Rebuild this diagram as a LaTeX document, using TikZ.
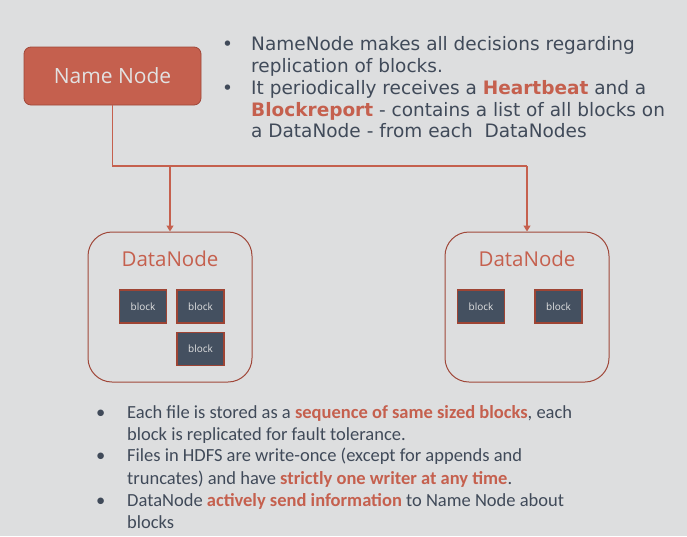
\documentclass[tikz,border=0pt]{standalone}
\usepackage{fontspec}
\setmainfont{Carlito}
\newfontfamily\topfont{DejaVu Sans}
\newfontfamily\boxfont{Open Sans}
\usetikzlibrary{arrows.meta}
\definecolor{bg}{RGB}{221,222,223}
\definecolor{nnred}{RGB}{197,96,78}
\definecolor{nnborder}{RGB}{160,72,58}
\definecolor{txt}{RGB}{64,74,89}
\definecolor{blk}{RGB}{68,80,96}
\definecolor{blkborder}{RGB}{158,68,52}
\definecolor{lighttxt}{RGB}{226,226,226}
\newcommand{\hl}[1]{\textcolor{nnred}{\textbf{#1}}}
\tikzset{
  namebox/.style={draw=nnborder, line width=0.8pt, fill=nnred, rounded corners=7pt,
    minimum width=177pt, minimum height=58pt, text=lighttxt,
    font=\boxfont\fontsize{21}{23}\selectfont},
  dnbox/.style={draw=nnborder, line width=1pt, rounded corners=24pt,
    minimum width=164pt, minimum height=150pt},
  dntitle/.style={text=nnred, font=\boxfont\fontsize{20.5}{22}\selectfont, inner sep=0pt},
  blockbox/.style={draw=blkborder, line width=1.2pt, fill=blk, minimum width=47pt,
    minimum height=33pt, text=lighttxt, font=\boxfont\fontsize{10}{11}\selectfont},
  conn/.style={draw=nnred, line width=1.2pt},
  arr/.style={conn, -{Triangle[width=7pt,length=6pt]}},
  topline/.style={anchor=base west, inner sep=0pt, text=txt, font=\topfont\fontsize{18.5}{20}\selectfont},
  botline/.style={anchor=base west, inner sep=0pt, text=txt, font=\fontsize{18.5}{20}\selectfont},
}
\begin{document}
\begin{tikzpicture}[x=1pt,y=-1pt]
\fill[bg] (0,0) rectangle (687,536);
\useasboundingbox (0,0) rectangle (687,536);

\node[namebox] (nn) at (112.5,76) {Name Node};

\node[dnbox] (dn1) at (170,307) {};
\node[dnbox] (dn2) at (527,307) {};
\node[dntitle] (t1) at (170,259) {DataNode};
\node[dntitle] (t2) at (527,259) {DataNode};

\node[blockbox] (b1) at (143,306.5) {block};
\node[blockbox] (b2) at (200.5,306.5) {block};
\node[blockbox] (b3) at (200.5,349) {block};
\node[blockbox] (b4) at (481,306.5) {block};
\node[blockbox] (b5) at (558.5,306.5) {block};

\coordinate (j1) at (170,166);
\coordinate (j2) at (527,166);
\draw[conn] (nn.south) |- (j2);
\draw[arr] (j2) -- (dn2.north);
\draw[arr] (j1) -- (dn1.north);

% top text
\node[topline] (tb1) at (222,50) {•};
\node[topline] (tl1) at (251,50) {NameNode makes all decisions regarding};
\node[topline] (tl2) at (251,72) {replication of blocks.};
\node[topline] (tb2) at (222,94) {•};
\node[topline] (tl3) at (251,94) {It periodically receives a \hl{Heartbeat} and a};
\node[topline] (tl4) at (251,116) {\hl{Blockreport} - contains a list of all blocks on};
\node[topline] (tl5) at (251,137) {a DataNode - from each\ \ DataNodes};

% bottom text
\node[botline] (bb1) at (96,418) {•};
\node[botline] (bl1) at (127,418) {Each file is stored as a \hl{sequence of same sized blocks}, each};
\node[botline] (bl2) at (127,440) {block is replicated for fault tolerance.};
\node[botline] (bb2) at (96,461.5) {•};
\node[botline] (bl3) at (127,461.5) {Files in HDFS are write-once (except for appends and};
\node[botline] (bl4) at (127,484) {truncates) and have \hl{strictly one writer at any time}.};
\node[botline] (bb3) at (96,506) {•};
\node[botline] (bl5) at (127,506) {DataNode \hl{actively send information} to Name Node about};
\node[botline] (bl6) at (127,528) {blocks};
\end{tikzpicture}
\end{document}
